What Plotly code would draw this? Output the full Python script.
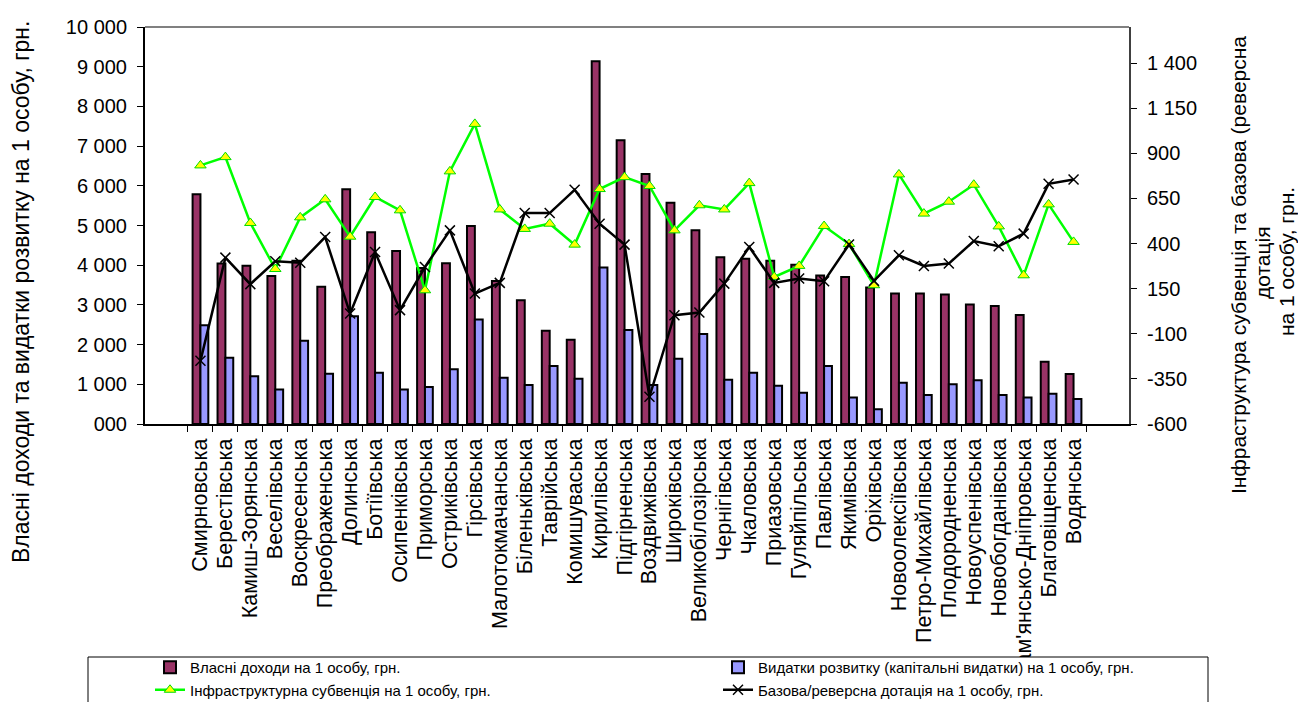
import plotly.graph_objects as go

categories = ["Смирновська", "Берестівська", "Камиш-Зорянська", "Веселівська", "Воскресенська",
              "Преображенська", "Долинська", "Ботіївська", "Осипенківська", "Приморська",
              "Остриківська", "Гірсівська", "Малотокмачанська", "Біленьківська", "Таврійська",
              "Комишуваська", "Кирилівська", "Підгірненська", "Воздвижівська", "Широківська",
              "Великобілозірська", "Чернігівська", "Чкаловська", "Приазовська", "Гуляйпільська",
              "Павлівська", "Якимівська", "Оріхівська", "Новоолексіївська", "Петро-Михайлівська",
              "Плодородненська", "Новоуспенівська", "Новобогданівська", "Кам'янсько-Дніпровська",
              "Благовіщенська", "Водянська"]

own_income = [5790, 4040, 3985, 3725, 4115, 3455, 5910, 4830, 4360, 3930, 4050, 4990, 3605, 3120,
              2350, 2120, 9140, 7145, 6300, 5575, 4880, 4200, 4160, 4110, 4010, 3740, 3705, 3440,
              3290, 3290, 3265, 3010, 2970, 2745, 1570, 1260]

dev_spend = [2490, 1670, 1205, 870, 2095, 1265, 2715, 1290, 870, 930, 1380, 2630, 1165, 980,
             1460, 1140, 3940, 2365, 980, 1645, 2270, 1115, 1290, 965, 790, 1460, 665, 370,
             1040, 730, 1000, 1105, 730, 665, 765, 630]

infra = [833, 879, 514, 259, 545, 645, 438, 658, 584, 141, 800, 1063, 589, 481, 510, 394, 702,
         768, 719, 473, 612, 589, 735, 215, 276, 497, 397, 169, 783, 566, 632, 726, 495, 224,
         617, 409]

base = [-250, 322, 175, 302, 294, 436, 12, 353, 31, 270, 473, 123, 182, 569, 569, 698, 510, 394,
        -449, 3, 18, 178, 381, 182, 206, 191, 395, 193, 335, 276, 289, 414, 385, 455, 731, 755]

left_ticks = [0, 1000, 2000, 3000, 4000, 5000, 6000, 7000, 8000, 9000, 10000]
left_ticktext = ["000", "1 000", "2 000", "3 000", "4 000", "5 000", "6 000", "7 000", "8 000",
                 "9 000", "10 000"]
right_ticks = [-600, -350, -100, 150, 400, 650, 900, 1150, 1400]
right_ticktext = ["-600", "-350", "-100", "150", "400", "650", "900", "1 150", "1 400"]

names = ["Власні доходи на 1 особу, грн.",
         "Видатки розвитку (капітальні видатки) на 1 особу, грн.",
         "Інфраструктурна субвенція на 1 особу, грн.",
         "Базова/реверсна дотація на 1 особу, грн."]

FONT = "Arial, 'Liberation Sans', sans-serif"

fig = go.Figure()
fig.add_trace(go.Bar(x=categories, y=own_income, name=names[0], legend="legend",
                     marker=dict(color="#993366", line=dict(color="black", width=2))))
fig.add_trace(go.Bar(x=categories, y=dev_spend, name=names[1], legend="legend2",
                     marker=dict(color="#9999FF", line=dict(color="black", width=2))))
fig.add_trace(go.Scatter(x=categories, y=infra, name=names[2], yaxis="y2", mode="lines+markers",
                         legend="legend",
                         line=dict(color="#00FF00", width=2.5),
                         marker=dict(symbol="triangle-up", size=10, color="#FFFF00",
                                     line=dict(color="#00DD00", width=1))))
fig.add_trace(go.Scatter(x=categories, y=base, name=names[3], yaxis="y2", mode="lines+markers",
                         legend="legend2",
                         line=dict(color="black", width=2.5),
                         marker=dict(symbol="x-thin", size=10, color="black",
                                     line=dict(color="black", width=1.5))))

L, R, T, B = 145, 169, 27, 278
W, H = 1298, 702
pw, ph = W - L - R, H - T - B

def px_x(p):
    return (p - L) / pw

def px_y(p):
    return (H - B - p) / ph

legend_common = dict(orientation="v", xanchor="left", yanchor="top", y=px_y(651),
                     font=dict(family=FONT, size=15, color="black"),
                     bgcolor="rgba(0,0,0,0)", borderwidth=0, tracegroupgap=0,
                     traceorder="normal")

fig.update_layout(
    width=W, height=H,
    margin=dict(l=L, r=R, t=T, b=B, pad=0, autoexpand=False),
    paper_bgcolor="white", plot_bgcolor="white",
    font=dict(family=FONT, color="black", size=20),
    barmode="group", bargap=0.37, bargroupgap=0.0,
    showlegend=True,
    legend=dict(x=px_x(150), **legend_common),
    legend2=dict(x=px_x(718), **legend_common),
    xaxis=dict(type="category", showline=True, linecolor="black", linewidth=2,
               tickmode="linear", tick0=0, dtick=1,
               ticks="outside", ticklen=6, tickcolor="black", tickson="boundaries",
               tickangle=-90, tickfont=dict(size=21.5), showgrid=False, zeroline=False,
               ticklabelstandoff=4, automargin=False),
    yaxis=dict(range=[0, 10000], tickvals=left_ticks, ticktext=left_ticktext,
               showline=True, linecolor="black", linewidth=2, ticks="outside", ticklen=6,
               tickcolor="black", showgrid=False, zeroline=False, tickfont=dict(size=20),
               ticklabelstandoff=6, automargin=False),
    yaxis2=dict(range=[-600, 1600], tickvals=right_ticks, ticktext=right_ticktext,
                overlaying="y", side="right", showline=True, linecolor="#404040", linewidth=2,
                ticks="outside", ticklen=6, tickcolor="black", showgrid=False, zeroline=False,
                tickfont=dict(size=20), ticklabelstandoff=6, automargin=False),
    shapes=[
        dict(type="line", xref="paper", yref="paper", x0=0, x1=1, y0=1, y1=1,
             line=dict(color="#808080", width=2)),
        dict(type="rect", xref="paper", yref="paper", x0=px_x(88), x1=px_x(1208),
             y0=px_y(657), y1=px_y(720), fillcolor="white", line=dict(color="black", width=1),
             layer="above"),
    ],
    annotations=[
        dict(text="Власні доходи та видатки розвитку на 1 особу, грн.", textangle=-90,
             xref="paper", yref="paper", x=px_x(21), y=px_y(292), xanchor="center",
             yanchor="middle", showarrow=False, font=dict(size=23, family=FONT)),
        dict(text="Інфраструктура субвенція та базова (реверсна", textangle=-90,
             xref="paper", yref="paper", x=px_x(1238), y=px_y(265), xanchor="center",
             yanchor="middle", showarrow=False, font=dict(size=21, family=FONT)),
        dict(text="дотація", textangle=-90,
             xref="paper", yref="paper", x=px_x(1262), y=px_y(263), xanchor="center",
             yanchor="middle", showarrow=False, font=dict(size=21, family=FONT)),
        dict(text="на 1 особу, грн.", textangle=-90,
             xref="paper", yref="paper", x=px_x(1286), y=px_y(262), xanchor="center",
             yanchor="middle", showarrow=False, font=dict(size=21, family=FONT)),
    ],
)

fig.write_html("out.html")
